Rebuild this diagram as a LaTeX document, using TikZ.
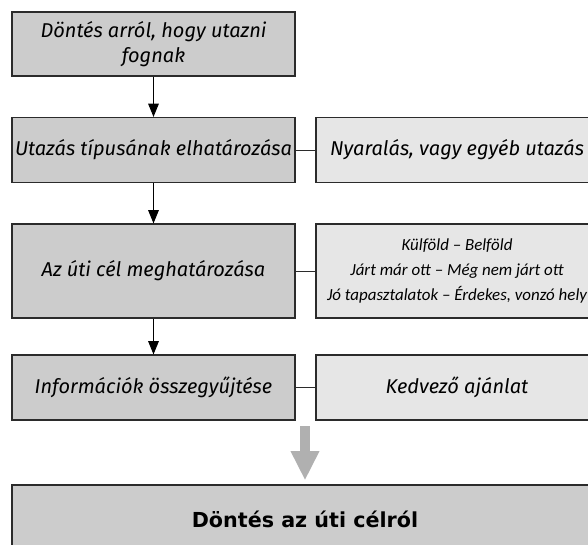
\documentclass[tikz,border=0pt]{standalone}
\usepackage{fontspec}
\setmainfont{Fira Sans}
\newfontfamily\kisfont{Carlito}
\newfontfamily\vastagfont{DejaVu Sans}
\usetikzlibrary{arrows.meta}
\definecolor{sotet}{HTML}{CCCCCC}
\definecolor{vilagos}{HTML}{E6E6E6}
\definecolor{keret}{HTML}{2B2B2B}
\definecolor{nyil}{HTML}{B0B0B0}
\begin{document}
\begin{tikzpicture}[x=0.75pt,y=-0.75pt,
  lepes/.style={draw=keret,line width=0.9pt,fill=sotet,inner sep=0pt,
    minimum width=212.25pt,minimum height=48.75pt,align=center,
    font=\fontsize{15}{19}\selectfont\itshape},
  ertek/.style={lepes,fill=vilagos,minimum width=211.5pt}]
\useasboundingbox (0,0) rectangle (588,544);
\clip (0,0) rectangle (588,544);
% the steps on the left
\node[lepes,minimum height=48pt] (dontes) at (153.5,44) {Döntés arról, hogy utazni\\fognak};
\node[lepes] (tipus) at (153.5,150) {Utazás típusának elhatározása};
\node[lepes,minimum height=70.5pt] (cel) at (153.5,271) {Az úti cél meghatározása};
\node[lepes] (info) at (153.5,387.5) {Információk összegyűjtése};
% the boxes on the right
\node[ertek,minimum height=70.5pt,font=\fontsize{12.7}{18.75}\selectfont\kisfont\itshape] (kulfold) at (457,271)
  {Külföld – Belföld\\Járt már ott – Még nem járt ott\\Jó tapasztalatok – Érdekes, vonzó hely};
\node[ertek] (nyaralas) at (457,150) {Nyaralás, vagy egyéb utazás};
\node[ertek] (kedvezo) at (457,387.5) {Kedvező ajánlat};
% the decision at the bottom
\node[lepes,minimum width=439.5pt,minimum height=51pt,
  font=\fontsize{15.5}{19}\selectfont\vastagfont\bfseries] (fin) at (305,519) {Döntés az úti célról};
% arrows between the steps
\draw[-{Triangle[length=10pt,width=8pt]},line width=0.7pt] (dontes) -- (tipus);
\draw[-{Triangle[length=10pt,width=8pt]},line width=0.7pt] (tipus) -- (cel);
\draw[-{Triangle[length=10pt,width=8pt]},line width=0.7pt] (cel) -- (info);
% the lines to the right
\draw[keret,line width=0.7pt] (tipus) -- (nyaralas);
\draw[keret,line width=0.7pt] (cel) -- (kulfold);
\draw[keret,line width=0.7pt] (info) -- (kedvezo);
% the big grey arrow
\coordinate (nyiltop) at (305,426);
\draw[nyil,line width=7.5pt,-{Triangle[length=22pt,width=20pt]},shorten >=3pt] (nyiltop) -- (fin.north);
\end{tikzpicture}
\end{document}
